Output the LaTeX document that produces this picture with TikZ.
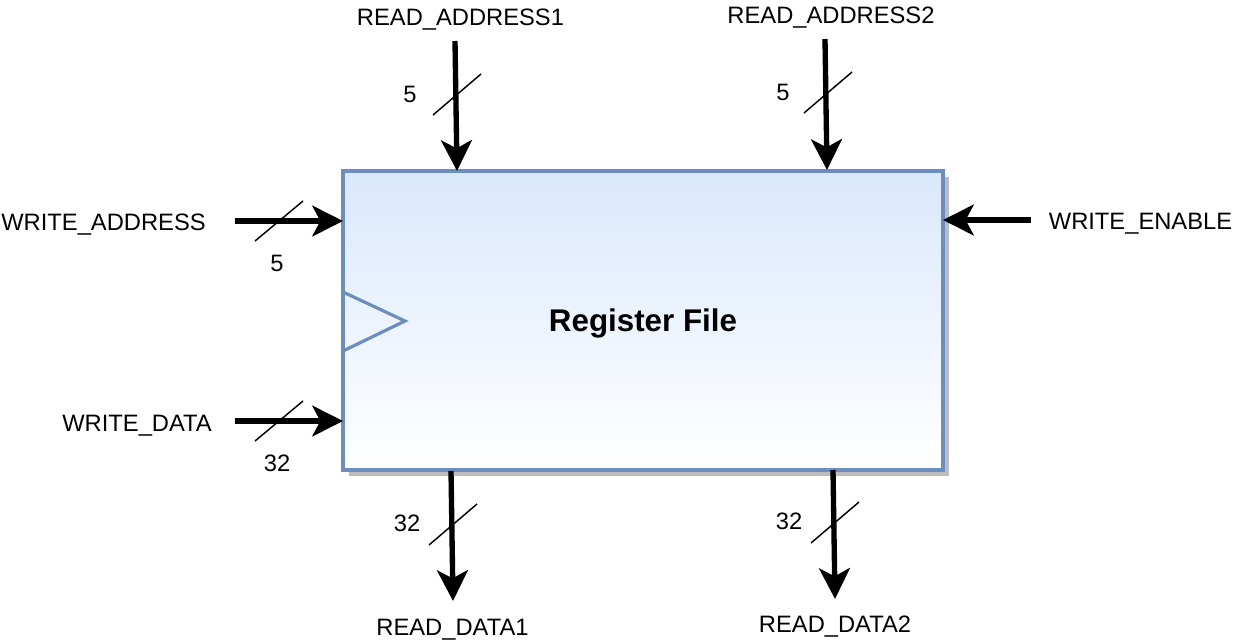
\documentclass[tikz,border=0pt]{standalone}
\usepackage{fontspec}
\setmainfont{Liberation Sans}
\usetikzlibrary{arrows.meta,shadows}
\definecolor{rfborder}{HTML}{6C8EBF}
\definecolor{rftop}{HTML}{DAE8FC}
\definecolor{rfshadow}{HTML}{BDBDBD}
\begin{document}
\begin{tikzpicture}[x=0.75pt,y=-0.75pt,
  lbl/.style={font=\fontsize{17.8}{21}\selectfont, inner sep=0pt, text height=12.7pt, text depth=0pt},
  bus/.style={line width=4pt, -{Stealth[length=23pt,width=23pt,inset=6pt]}},
  slash/.style={line width=1.1pt},
  ]
\useasboundingbox (0,0) rectangle (1234,640);
% register file box
\node[draw=rfborder, line width=2.6pt, top color=rftop, bottom color=white,
      minimum width=450pt, minimum height=224.25pt, outer sep=0pt,
      text height=16.8pt, text depth=0pt,
      general shadow={fill=rfshadow, shadow xshift=4.5pt, shadow yshift=-4.5pt},
      font=\bfseries\fontsize{23.5}{28}\selectfont] (rf) at (643,320.5) {Register File};
% clock triangle
\draw[rfborder, line width=2.4pt, line join=miter] (343,292) -- (405,321) -- (343,351);
% labels
\node[lbl] (ra1) at (460.5,17.5) {READ\_ADDRESS1};
\node[lbl] (ra2) at (831,15) {READ\_ADDRESS2};
\node[lbl] (wa) at (103.5,222.5) {WRITE\_ADDRESS};
\node[lbl] (wd) at (137,423.5) {WRITE\_DATA};
\node[lbl] (we) at (1140.5,221.5) {WRITE\_ENABLE};
\node[lbl] (rd1) at (452.5,627) {READ\_DATA1};
\node[lbl] (rd2) at (835,624.5) {READ\_DATA2};
% width labels
\node[lbl] (nwa) at (277,263.5) {5};
\node[lbl] (nwd) at (277,463.5) {32};
\node[lbl] (nra1) at (410,94) {5};
\node[lbl] (nra2) at (783,92) {5};
\node[lbl] (nrd1) at (407,523.5) {32};
\node[lbl] (nrd2) at (789,521.5) {32};
% connector end points
\coordinate (ra1s) at (455,41);   \coordinate (ra1e) at (457,171);
\coordinate (ra2s) at (825,39);   \coordinate (ra2e) at (827,170);
\coordinate (was) at (235,221);   \coordinate (wae) at (343,221);
\coordinate (wds) at (235,421);   \coordinate (wde) at (343,421);
\coordinate (wes) at (1031,220);  \coordinate (wee) at (943,220);
\coordinate (rd1s) at (451,471);  \coordinate (rd1e) at (453,601);
\coordinate (rd2s) at (833,470);  \coordinate (rd2e) at (835,599);
% buses
\draw[bus] (ra1s) -- (ra1e);
\draw[bus] (ra2s) -- (ra2e);
\draw[bus] (was) -- (wae);
\draw[bus] (wds) -- (wde);
\draw[bus] (wes) -- (wee);
\draw[bus] (rd1s) -- (rd1e);
\draw[bus] (rd2s) -- (rd2e);
% bus width slashes
\draw[slash] (255,241) -- (303,201);
\draw[slash] (255,441) -- (303,401);
\draw[slash] (433,115) -- (481,74);
\draw[slash] (804,113) -- (852,72);
\draw[slash] (429,545) -- (477,504);
\draw[slash] (811,543) -- (859,502);
\end{tikzpicture}
\end{document}
